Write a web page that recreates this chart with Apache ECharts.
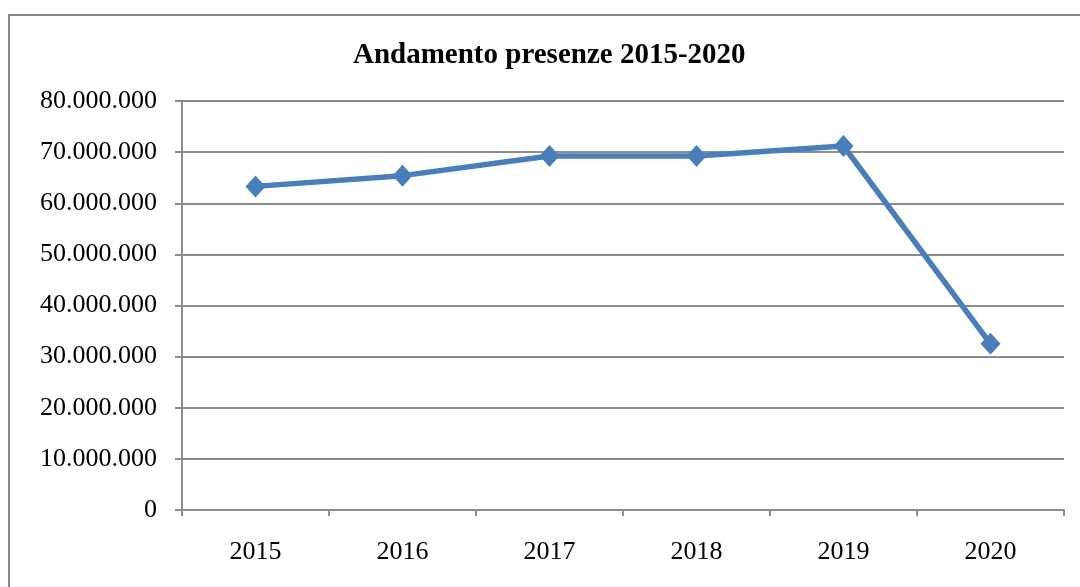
<!DOCTYPE html>
<html>
<head>
<meta charset="utf-8">
<script src="https://cdn.jsdelivr.net/npm/echarts@6/dist/echarts.min.js"></script>
<style>
  html, body { margin: 0; padding: 0; background: #fff; }
  #chart { width: 1080px; height: 587px; }
</style>
</head>
<body>
<div id="chart"></div>
<script>
// Overnight stays (presenze) per year
const years = ['2015', '2016', '2017', '2018', '2019', '2020'];
const presenze = [63300000, 65400000, 69250000, 69250000, 71200000, 32500000];

const yMin = 0;
const yMax = 80000000;
const yStep = 10000000;

const serif = '"Liberation Serif", "Times New Roman", serif';
const gridGray = '#8c8c8c';

// Italian thousands separator: 80000000 -> 80.000.000
function formatIt(v) {
  return String(Math.round(v)).replace(/\B(?=(\d{3})+(?!\d))/g, '.');
}

const chart = echarts.init(document.getElementById('chart'), null, { renderer: 'canvas' });

chart.setOption({
  backgroundColor: '#ffffff',
  animation: false,
  title: {
    text: 'Andamento presenze 2015-2020',
    left: 348,
    top: 36,
    textStyle: { fontFamily: serif, fontWeight: 'bold', fontSize: 29, color: '#000' }
  },
  graphic: [{
    type: 'rect',
    shape: { x: 9, y: 15, width: 1200, height: 700 },
    style: { fill: null, stroke: '#888888', lineWidth: 2 },
    silent: true,
    z: -1
  }],
  grid: { left: 182, right: 16, top: 101, bottom: 77, containLabel: false },
  xAxis: {
    type: 'category',
    data: years,
    boundaryGap: true,
    axisLine: { show: true, lineStyle: { color: gridGray, width: 2 } },
    axisTick: { show: true, length: 6, alignWithLabel: false, lineStyle: { color: gridGray, width: 2 } },
    axisLabel: { fontFamily: serif, fontSize: 26, color: '#000', margin: 29 },
    splitLine: { show: false }
  },
  yAxis: {
    type: 'value',
    min: yMin,
    max: yMax,
    interval: yStep,
    axisLine: { show: true, lineStyle: { color: gridGray, width: 2 } },
    axisTick: { show: true, length: 7, lineStyle: { color: gridGray, width: 2 } },
    axisLabel: { fontFamily: serif, fontSize: 26, color: '#000', margin: 25, formatter: formatIt },
    splitLine: { show: true, lineStyle: { color: gridGray, width: 2 } }
  },
  series: [{
    type: 'line',
    data: presenze,
    symbol: 'diamond',
    symbolSize: [20, 22],
    lineStyle: { color: '#4a7ebb', width: 5.5 },
    itemStyle: { color: '#4a7ebb' }
  }]
});
</script>
</body>
</html>
